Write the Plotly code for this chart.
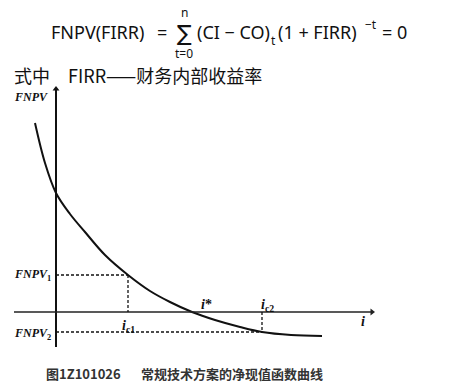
import plotly.graph_objects as go

# Curve of net present value vs discount rate (arbitrary units)
rate = [-2.1, -1.1, 0.0, 1.4, 2.9, 4.9, 7.2, 9.4, 11.4, 13.6, 15.9, 18.4, 20.6, 23.5, 26.6]
fnpv = [18.9, 14.9, 11.9, 9.8, 8.0, 5.7, 3.7, 2.1, 1.0, 0.0, -0.8, -1.5, -2.0, -2.3, -2.4]

i_c1, fnpv1 = 7.2, 3.7
i_star = 13.6
i_c2, fnpv2 = 20.6, -2.0

x_axis_span = [-4.2, 31.6]
y_axis_span = [-3.5, 22.3]

W, H = 462, 386
X0, Y0, S = 56, 312, 10  # pixel origin and scale for layout


def dx(px):
    return (px - X0) / S


def dy(py):
    return (Y0 - py) / S


fig = go.Figure()

# curve
fig.add_trace(go.Scatter(x=rate, y=fnpv, mode="lines",
                         line=dict(color="#111", width=2, shape="spline", smoothing=1.0),
                         hoverinfo="skip", showlegend=False))

# axes
fig.add_shape(type="line", x0=0, x1=0, y0=y_axis_span[0], y1=y_axis_span[1], line=dict(color="#111", width=2))
fig.add_shape(type="line", x0=x_axis_span[0], x1=x_axis_span[1], y0=0, y1=0, line=dict(color="#222", width=1.5))
fig.add_trace(go.Scatter(x=[0], y=[y_axis_span[1]], mode="markers",
                         marker=dict(symbol="triangle-up", size=6, color="#111"),
                         hoverinfo="skip", showlegend=False))
fig.add_trace(go.Scatter(x=[x_axis_span[1]], y=[0], mode="markers",
                         marker=dict(symbol="triangle-right", size=6, color="#222"),
                         hoverinfo="skip", showlegend=False))

# dashed guides
dash = dict(color="#111", width=1.3, dash="3px,2px")
fig.add_shape(type="line", x0=0, x1=i_c1, y0=fnpv1, y1=fnpv1, line=dash)
fig.add_shape(type="line", x0=i_c1, x1=i_c1, y0=fnpv1, y1=0, line=dash)
fig.add_shape(type="line", x0=0, x1=i_c2, y0=fnpv2, y1=fnpv2, line=dash)
fig.add_shape(type="line", x0=i_c2, x1=i_c2, y0=0, y1=fnpv2, line=dash)

lab = dict(family="Liberation Serif", size=12, color="#111")
labi = dict(family="Liberation Serif", size=14, color="#111")


def add_label(text, px, py, anchor="left", font=lab):
    fig.add_annotation(x=dx(px), y=dy(py), text=text, showarrow=False, xanchor=anchor, yanchor="middle",
                       font=font, xref="x", yref="y")


add_label("<b><i>FNPV</i></b>", 12, 97)
add_label("<b><i>FNPV</i></b><sub><b>1</b></sub>", 12, 275)
add_label("<b><i>FNPV</i></b><sub><b>2</b></sub>", 12, 334)
add_label("<b><i>i</i></b><sub><b>c1</b></sub>", 120, 326, font=labi)
add_label("<b><i>i</i>*</b>", 199, 304, font=labi)
add_label("<b><i>i</i></b><sub><b>c2</b></sub>", 259, 305, font=labi)
add_label("<b><i>i</i></b>", 359, 321, font=labi)

# formula
ff = dict(family="Noto Sans", size=18, color="#111")
fs = dict(family="Noto Sans", size=12, color="#111")
add_label("FNPV(FIRR)", 49, 32, font=ff)
add_label("=", 155, 32, font=ff)
add_label("∑", 184, 33, anchor="center", font=dict(family="DejaVu Sans", size=22, color="#111"))
add_label("n", 184, 12, anchor="center", font=fs)
add_label("t=0", 184, 53, anchor="center", font=fs)
add_label("(CI − CO)", 195, 32, font=ff)
add_label("t", 269, 40, font=fs)
add_label("(1 + FIRR)", 276, 32, font=ff)
add_label("−t", 363, 24, font=fs)
add_label("= 0", 380, 32, font=ff)

# explanation line
cj = dict(family="Noto Sans CJK SC", size=18, color="#111")
add_label("式中", 12, 75, font=cj)
add_label("FIRR——财务内部收益率", 66, 75, font=cj)

# caption
cap = dict(family="Noto Sans CJK SC", size=13, color="#333")
add_label("<b>图1Z101026</b>", 44, 373, font=cap)
add_label("<b>常规技术方案的净现值函数曲线</b>", 139, 373, font=cap)

fig.update_layout(
    width=W, height=H, margin=dict(l=0, r=0, t=0, b=0),
    paper_bgcolor="white", plot_bgcolor="white",
    xaxis=dict(range=[dx(0), dx(W)], visible=False, fixedrange=True),
    yaxis=dict(range=[dy(H), dy(0)], visible=False, fixedrange=True),
    showlegend=False,
)

fig.write_html("out.html", config={"displayModeBar": False},
               post_script="document.body.style.margin='0';")
